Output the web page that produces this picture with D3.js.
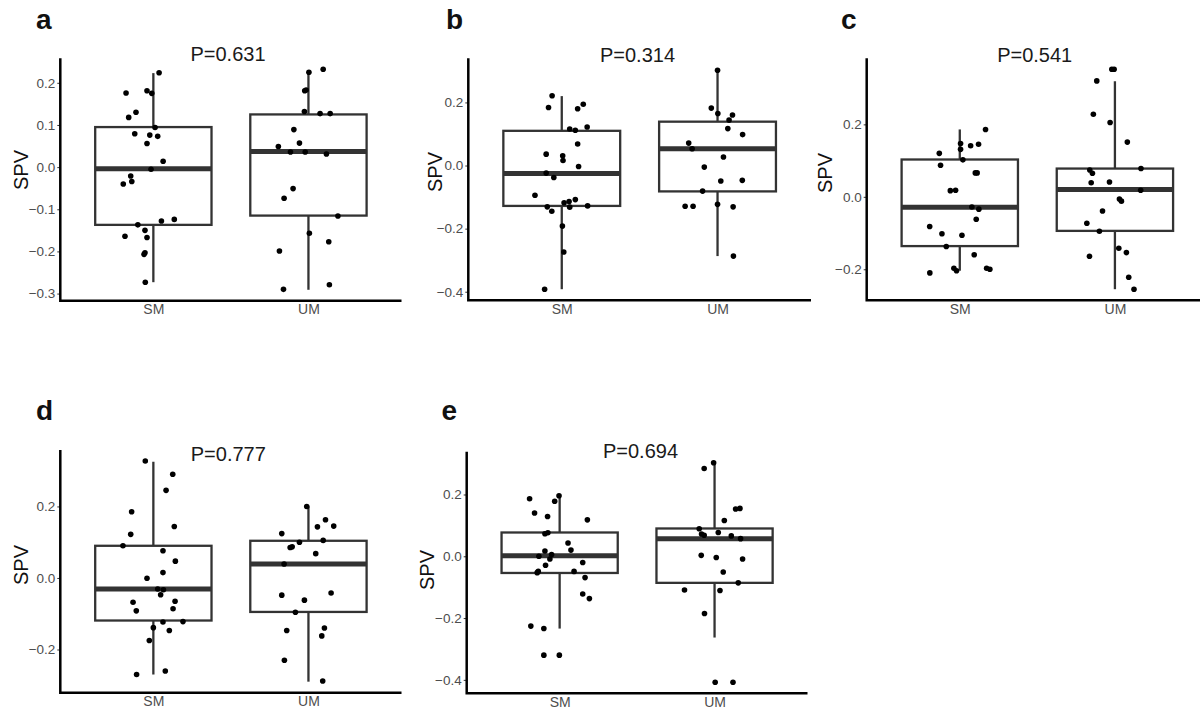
<!DOCTYPE html>
<html>
<head>
<meta charset="utf-8">
<script src="https://cdn.jsdelivr.net/npm/d3@7"></script>
<style>
  body { margin: 0; background: #fff; }
  text { font-family: "Liberation Sans", Arial, sans-serif; }
</style>
</head>
<body>
<script>
// groups and panel labels
var groups = ["SM", "UM"];
var panelLetters = ["a", "b", "c", "d", "e"];
var pLabels = ["P=0.631", "P=0.314", "P=0.541", "P=0.777", "P=0.694"];
var yTicks = [
  [-0.3, -0.2, -0.1, 0, 0.1, 0.2],
  [-0.4, -0.2, 0, 0.2],
  [-0.2, 0, 0.2],
  [-0.2, 0, 0.2],
  [-0.4, -0.2, 0, 0.2]
];

// box stats: [lower whisker, Q1, median, Q3, upper whisker]
var boxSM = [
  [-0.273, -0.137, -0.004, 0.095, 0.223],
  [-0.392, -0.128, -0.025, 0.110, 0.220],
  [-0.204, -0.136, -0.029, 0.103, 0.186],
  [-0.270, -0.119, -0.031, 0.090, 0.325],
  [-0.234, -0.054, 0.002, 0.077, 0.194]
];
var boxUM = [
  [-0.291, -0.115, 0.037, 0.125, 0.230],
  [-0.287, -0.082, 0.053, 0.139, 0.305],
  [-0.255, -0.094, 0.020, 0.078, 0.319],
  [-0.290, -0.095, 0.039, 0.104, 0.200],
  [-0.263, -0.086, 0.057, 0.090, 0.303]
];

// jittered points: [jitter (category units), SPV]
var aSM = [[0.037,0.224],[-0.176,0.176],[-0.041,0.181],[-0.010,0.175],[-0.112,0.130],[-0.159,0.118],[0.011,0.094],[-0.120,0.079],[-0.023,0.076],[0.028,0.073],[-0.041,0.056],[0.063,0.014],[-0.015,-0.005],[-0.146,-0.021],[-0.194,-0.040],[-0.139,-0.034],[-0.100,-0.137],[0.052,-0.128],[0.135,-0.124],[-0.183,-0.164],[-0.054,-0.150],[-0.041,-0.167],[-0.054,-0.203],[-0.060,-0.207],[-0.052,-0.273]];
var aUM = [[0.003,0.225],[0.095,0.232],[-0.024,0.181],[-0.015,0.183],[-0.026,0.132],[0.075,0.127],[0.140,0.127],[-0.094,0.089],[-0.194,0.049],[-0.058,0.057],[-0.116,0.036],[-0.021,0.036],[0.116,0.031],[-0.099,-0.051],[-0.157,-0.074],[0.190,-0.116],[0.006,-0.157],[0.131,-0.177],[-0.187,-0.199],[-0.161,-0.290],[0.135,-0.279]];
var bSM = [[-0.062,0.221],[-0.085,0.184],[0.102,0.180],[0.138,0.194],[0.051,0.116],[0.087,0.112],[0.163,0.122],[0.102,0.068],[-0.100,0.036],[0.006,0.031],[0.008,0.016],[0.108,-0.003],[-0.100,-0.024],[-0.051,-0.038],[-0.172,-0.094],[0.015,-0.118],[0.047,-0.114],[0.087,-0.108],[-0.093,-0.131],[-0.064,-0.145],[0.051,-0.132],[0.166,-0.128],[0.004,-0.192],[0.013,-0.274],[-0.110,-0.392]];
var bUM = [[0,0.302],[-0.040,0.182],[0.002,0.165],[0.096,0.160],[0.074,0.144],[0.066,0.117],[0.161,0.098],[-0.185,0.071],[-0.163,0.053],[0.038,0.027],[-0.085,-0.005],[0.021,-0.049],[0.159,-0.047],[-0.096,-0.081],[-0.208,-0.129],[-0.157,-0.129],[0,-0.123],[0.100,-0.131],[0.102,-0.287]];
var cSM = [[0.166,0.186],[-0.132,0.120],[0.005,0.147],[0.005,0.131],[0.070,0.141],[0.121,0.145],[-0.124,0.087],[0.020,0.102],[0.100,0.066],[0.112,0.066],[-0.061,0.017],[-0.027,0.018],[0.078,-0.028],[0.123,-0.034],[0.106,-0.062],[-0.194,-0.082],[-0.115,-0.102],[0.014,-0.106],[-0.087,-0.137],[0.093,-0.160],[-0.038,-0.197],[-0.021,-0.204],[0.173,-0.197],[0.194,-0.200],[-0.193,-0.210]];
var cUM = [[-0.020,0.352],[-0.005,0.352],[-0.117,0.320],[-0.139,0.228],[-0.031,0.205],[0.080,0.151],[-0.162,0.074],[-0.145,0.065],[0.168,0.078],[-0.153,0.039],[-0.035,0.041],[0.166,0.018],[0.029,-0.006],[0.042,-0.012],[-0.080,-0.039],[-0.181,-0.073],[-0.100,-0.095],[0.025,-0.142],[0.074,-0.154],[-0.164,-0.164],[0.089,-0.222],[0.123,-0.255]];
var dSM = [[-0.052,0.327],[0.125,0.290],[0.082,0.245],[-0.140,0.185],[0.135,0.144],[-0.146,0.122],[-0.196,0.090],[0.062,0.076],[0.142,0.047],[0.062,0.015],[-0.041,-0.001],[0.028,-0.031],[0.065,-0.033],[0.047,-0.047],[0.140,-0.065],[-0.131,-0.068],[-0.110,-0.092],[0.127,-0.086],[0.062,-0.123],[0.191,-0.122],[0,-0.139],[0.103,-0.147],[-0.026,-0.175],[-0.108,-0.270],[0.077,-0.260]];
var dUM = [[-0.011,0.200],[0.110,0.163],[0.163,0.145],[0.058,0.143],[-0.172,0.124],[-0.118,0.085],[-0.105,0.087],[-0.058,0.100],[0.095,0.105],[0.047,0.068],[-0.157,0.039],[-0.172,-0.048],[-0.026,-0.062],[0.146,-0.042],[-0.084,-0.096],[-0.140,-0.147],[0.103,-0.140],[0.086,-0.162],[-0.155,-0.230],[0.092,-0.288]];
var eSM = [[-0.004,0.196],[-0.194,0.186],[-0.032,0.178],[-0.162,0.140],[-0.078,0.129],[0.179,0.118],[-0.095,0.073],[-0.076,0.076],[0.054,0.043],[0.073,0.020],[-0.095,0.017],[-0.134,0],[-0.052,0.006],[-0.063,-0.009],[-0.091,-0.029],[0.149,-0.020],[-0.145,-0.053],[-0.138,-0.049],[0.093,-0.049],[0.164,-0.069],[0.149,-0.122],[0.192,-0.137],[-0.186,-0.226],[-0.102,-0.234],[-0.102,-0.320],[-0.002,-0.320]];
var eUM = [[-0.006,0.303],[-0.067,0.284],[0.164,0.155],[0.136,0.153],[0.063,0.116],[-0.099,0.089],[-0.084,0.072],[-0.067,0.068],[0.024,0.077],[0.108,0.066],[0.168,0.057],[-0.086,0.003],[0.011,-0.004],[0.181,-0.009],[0.056,-0.051],[0.153,-0.086],[-0.194,-0.109],[0.035,-0.111],[-0.065,-0.185],[0.004,-0.408],[0.119,-0.408]];

var pointsSM = [aSM, bSM, cSM, dSM, eSM];
var pointsUM = [aUM, bUM, cUM, dUM, eUM];

// where each panel sits on the page
var layout = [
  {x0: 60.3,  x1: 401.5,  top: 58.3,  bottom: 300.8, titleX: 228,   titleY: 60.7,  letterX: 36,    letterY: 29,    labelX: 21,    labelY: 170},
  {x0: 468.3, x1: 811,    top: 58.3,  bottom: 300.2, titleX: 637.5, titleY: 61.7,  letterX: 446,   letterY: 28.5,  labelX: 435,   labelY: 172},
  {x0: 866.7, x1: 1208,   top: 58.3,  bottom: 300.2, titleX: 1034.7,titleY: 61.7,  letterX: 841,   letterY: 28.5,  labelX: 825,   labelY: 173},
  {x0: 60.3,  x1: 401.5,  top: 450,   bottom: 692.7, titleX: 228.3, titleY: 461,   letterX: 36,    letterY: 419.5, labelX: 20.5,  labelY: 565},
  {x0: 466.7, x1: 807.5,  top: 451.7, bottom: 693.3, titleX: 640.5, titleY: 457.7, letterX: 441.5, letterY: 419.5, labelX: 426.7, labelY: 570}
];

var svg = d3.select("body")
  .append("svg")
    .attr("width", 1200)
    .attr("height", 711);

panelLetters.forEach(function(letter, i) {
  var L = layout[i];
  var boxes = [
    {group: "SM", s: boxSM[i]},
    {group: "UM", s: boxUM[i]}
  ];
  var pts = pointsSM[i].map(function(p) { return {group: "SM", dx: p[0], v: p[1]}; })
    .concat(pointsUM[i].map(function(p) { return {group: "UM", dx: p[0], v: p[1]}; }));

  // ggplot style 5% expansion around the data
  var ext = d3.extent(pts.map(function(d) { return d.v; }).concat(boxSM[i], boxUM[i]));
  var pad = (ext[1] - ext[0]) * 0.05;

  var y = d3.scaleLinear()
    .domain([ext[0] - pad, ext[1] + pad])
    .range([L.bottom, L.top]);
  var x = d3.scalePoint()
    .domain(groups)
    .range([L.x0, L.x1])
    .padding(0.6);
  var step = x.step();
  var halfW = 0.375 * step;

  var g = svg.append("g");

  // whiskers
  g.selectAll(".whisk")
    .data(boxes)
    .enter().append("line")
      .attr("x1", function(d) { return x(d.group); })
      .attr("x2", function(d) { return x(d.group); })
      .attr("y1", function(d) { return y(d.s[0]); })
      .attr("y2", function(d) { return y(d.s[4]); })
      .attr("stroke", "#333")
      .attr("stroke-width", 2.3);

  // boxes
  g.selectAll(".box")
    .data(boxes)
    .enter().append("rect")
      .attr("x", function(d) { return x(d.group) - halfW; })
      .attr("width", halfW * 2)
      .attr("y", function(d) { return y(d.s[3]); })
      .attr("height", function(d) { return y(d.s[1]) - y(d.s[3]); })
      .attr("fill", "#fff")
      .attr("stroke", "#333")
      .attr("stroke-width", 2.3);

  // medians
  g.selectAll(".med")
    .data(boxes)
    .enter().append("line")
      .attr("x1", function(d) { return x(d.group) - halfW; })
      .attr("x2", function(d) { return x(d.group) + halfW; })
      .attr("y1", function(d) { return y(d.s[2]); })
      .attr("y2", function(d) { return y(d.s[2]); })
      .attr("stroke", "#333")
      .attr("stroke-width", 5);

  // jitter points
  g.selectAll(".pt")
    .data(pts)
    .enter().append("circle")
      .attr("cx", function(d) { return x(d.group) + d.dx * step; })
      .attr("cy", function(d) { return y(d.v); })
      .attr("r", 2.8)
      .attr("fill", "#000");

  // y axis
  var yAxis = g.append("g")
    .attr("transform", "translate(" + L.x0 + ",0)")
    .call(d3.axisLeft(y).tickValues(yTicks[i]).tickFormat(d3.format(".1f"))
      .tickSize(3).tickSizeOuter(0).tickPadding(2));
  yAxis.select(".domain").remove();
  yAxis.selectAll(".tick line").attr("stroke", "#333");
  yAxis.selectAll(".tick text")
    .attr("fill", "#4d4d4d")
    .style("font-size", "13.5px");

  // x axis
  var xAxis = g.append("g")
    .attr("transform", "translate(0," + L.bottom + ")")
    .call(d3.axisBottom(x).tickSize(0).tickPadding(3.5));
  xAxis.select(".domain").remove();
  xAxis.selectAll(".tick text")
    .attr("fill", "#4d4d4d")
    .style("font-size", "14px");

  // axis lines (theme_classic)
  g.append("path")
    .attr("d", "M" + L.x0 + "," + L.top + "V" + L.bottom + "H" + L.x1)
    .attr("fill", "none")
    .attr("stroke", "#000")
    .attr("stroke-width", 2.5);

  // P value title
  g.append("text")
    .attr("x", L.titleX)
    .attr("y", L.titleY)
    .attr("text-anchor", "middle")
    .attr("fill", "#1a1a1a")
    .style("font-size", "20px")
    .text(pLabels[i]);

  // panel letter
  g.append("text")
    .attr("x", L.letterX)
    .attr("y", L.letterY)
    .attr("fill", "#111")
    .style("font-size", "28px")
    .style("font-weight", "bold")
    .text(letter);

  // y label
  g.append("text")
    .attr("transform", "translate(" + L.labelX + "," + L.labelY + ") rotate(-90)")
    .attr("text-anchor", "middle")
    .attr("dy", "0.35em")
    .attr("fill", "#111")
    .style("font-size", "20px")
    .text("SPV");
});
</script>
</body>
</html>
